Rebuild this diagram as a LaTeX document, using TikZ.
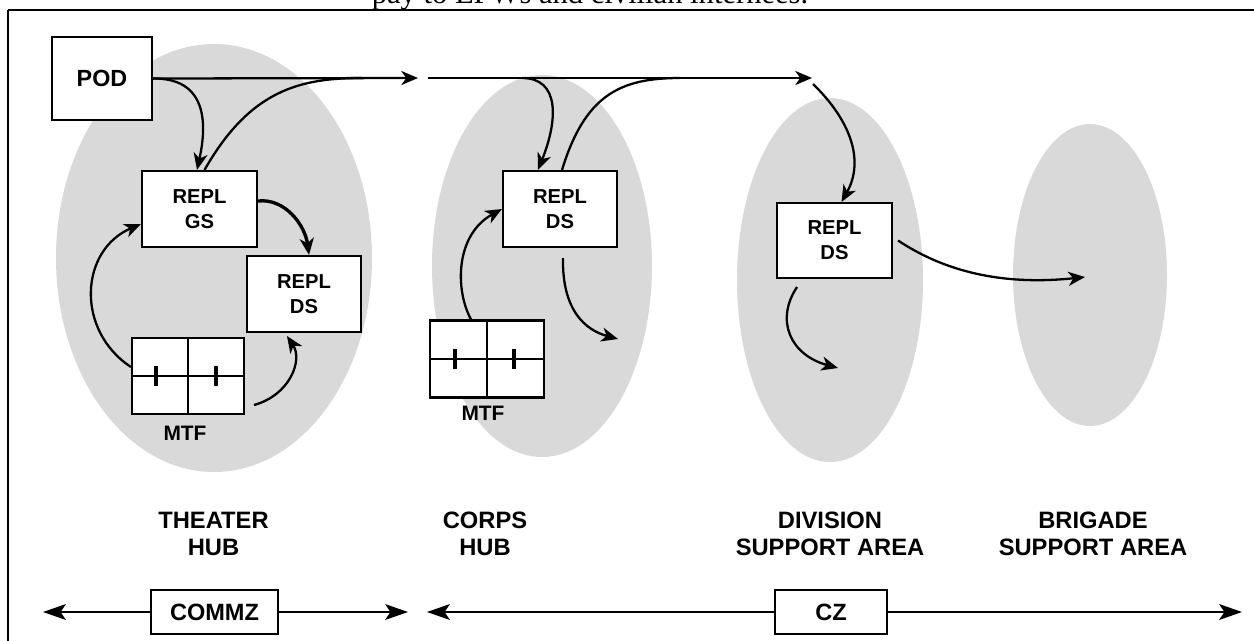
\documentclass[tikz,border=0pt]{standalone}
\usepackage{fontspec}
\setmainfont{Liberation Sans}
\newfontfamily\captionserif{Liberation Serif}
\usetikzlibrary{arrows.meta}
\definecolor{zonegray}{RGB}{217,217,217}
\begin{document}
\begin{tikzpicture}[x=0.02cm,y=-0.02cm,
  areafill/.style={fill=zonegray,draw=none},
  unitbox/.style={draw,line width=1.2pt,fill=white,align=center,inner sep=0pt,
    font=\bfseries\fontsize{11.5}{14.2}\selectfont},
  flow/.style={line width=1.3pt,-{Stealth[length=9.5pt,width=8pt,inset=2.8pt]}},
  joinline/.style={line width=1.3pt},
  mtftick/.style={line width=1.9pt},
  arealabel/.style={align=center,font=\bfseries\fontsize{13.5}{15.3}\selectfont},
  mtflabel/.style={font=\bfseries\fontsize{11.9}{14}\selectfont},
  zonebox/.style={draw,line width=0.8pt,fill=white,inner sep=0pt,
    font=\bfseries\fontsize{13.4}{15}\selectfont},
  rangearrow/.style={line width=0.8pt,-{Stealth[length=13pt,width=9pt,inset=3pt]}}
]
\useasboundingbox (0,0) rectangle (1254,640);
\clip (0,0) rectangle (1254,640);

% shaded areas
\fill[areafill] (214,258) ellipse [x radius=158, y radius=214];
\fill[areafill] (542,266) ellipse [x radius=110, y radius=191];
\fill[areafill] (830,280) ellipse [x radius=93, y radius=182];
\fill[areafill] (1090,275) ellipse [x radius=77, y radius=151];

% frame and caption line above it
\node[anchor=base,font=\captionserif\fontsize{17.4}{20}\selectfont] (caption) at (590,3)
  {pay to EPWs and civilian internees.};
\draw[line width=1.5pt] (1300,10) -- (8,10);
\draw[line width=1pt] (8,10) -- (8,700);

% boxes
\node[unitbox,minimum width=2.0cm,minimum height=1.66cm,font=\bfseries\fontsize{13.3}{15}\selectfont] (pod) at (102,78.5) {POD};
\node[unitbox,minimum width=2.3cm,minimum height=1.52cm] (gs) at (199.5,209) {REPL\\GS};
\node[unitbox,minimum width=2.28cm,minimum height=1.52cm] (dsT) at (304,294) {REPL\\DS};
\node[unitbox,minimum width=2.28cm,minimum height=1.52cm] (dsC) at (560,209) {REPL\\DS};
\node[unitbox,minimum width=2.3cm,minimum height=1.5cm] (dsD) at (834.5,240.5) {REPL\\DS};

% medical treatment facilities
\node[unitbox,minimum width=2.24cm,minimum height=1.52cm] (mtfT) at (188,376) {};
\draw[joinline] (mtfT.north) -- (mtfT.south) (mtfT.west) -- (mtfT.east);
\draw[mtftick] ([xshift=-0.64cm,yshift=0.2cm]mtfT.center) -- ([xshift=-0.64cm,yshift=-0.2cm]mtfT.center);
\draw[mtftick] ([xshift=0.56cm,yshift=0.2cm]mtfT.center) -- ([xshift=0.56cm,yshift=-0.2cm]mtfT.center);
\node[mtflabel] (mtfTl) at (185,433) {MTF};

\node[unitbox,minimum width=2.28cm,minimum height=1.54cm] (mtfC) at (487,359) {};
\draw[joinline] (mtfC.north) -- (mtfC.south) (mtfC.west) -- (mtfC.east);
\draw[mtftick] ([xshift=-0.64cm,yshift=0.2cm]mtfC.center) -- ([xshift=-0.64cm,yshift=-0.2cm]mtfC.center);
\draw[mtftick] ([xshift=0.54cm,yshift=0.2cm]mtfC.center) -- ([xshift=0.54cm,yshift=-0.2cm]mtfC.center);
\node[mtflabel] (mtfCl) at (483,413) {MTF};

% theater hub flows
\coordinate (tipT) at (418,78);
\coordinate (mergeT) at (362,78);
\draw[flow] (pod.east) -- (tipT);
\draw[flow] (pod.east) .. controls (205,78) and (208,120) .. ([xshift=-0.05cm]gs.north);
\draw[joinline] ([xshift=0.1cm]gs.north) .. controls (250,90) and (300,78) .. (mergeT);
\draw[flow,line width=1.9pt] ([yshift=0.16cm]gs.east) .. controls (285,198) and (305,225) .. ([xshift=0.1cm]dsT.north);
\draw[flow] ([yshift=0.18cm]mtfT.west) .. controls (75,330) and (80,250) .. ([yshift=-0.3cm]gs.west);
\draw[flow] ([xshift=0.18cm,yshift=-0.58cm]mtfT.east) .. controls (290,395) and (303,360) .. ([xshift=-0.34cm,yshift=-0.06cm]dsT.south);

% corps hub flows
\coordinate (startC) at (428,78);
\coordinate (tipC) at (812,78);
\coordinate (branchC) at (522,78);
\coordinate (mergeC) at (680,78);
\coordinate (outC) at (618,339);
\draw[flow] (startC) -- (tipC);
\draw[flow] (branchC) .. controls (560,78) and (558,120) .. ([xshift=-0.44cm]dsC.north);
\draw[joinline] ([xshift=0.04cm]dsC.north) .. controls (585,95) and (620,78) .. (mergeC);
\draw[flow] ([xshift=0.06cm,yshift=-0.2cm]dsC.south) .. controls (562,310) and (585,330) .. (outC);
\draw[flow] ([xshift=-0.32cm]mtfC.north) .. controls (455,290) and (455,235) .. (dsC.west);

% division and brigade flows
\coordinate (branchD) at (813,84);
\coordinate (outD) at (838,368);
\coordinate (tipB) at (1085,277);
\draw[flow] (branchD) .. controls (850,120) and (865,160) .. ([xshift=0.14cm]dsD.north);
\draw[flow] ([xshift=0.1cm]dsD.east) .. controls (950,275) and (1010,285) .. (tipB);
\draw[flow] ([xshift=-0.75cm,yshift=-0.16cm]dsD.south) .. controls (775,320) and (790,355) .. (outD);

% area names
\node[arealabel] (theater) at (213.5,534) {THEATER\\HUB};
\node[arealabel] (corps) at (485,534) {CORPS\\HUB};
\node[arealabel] (division) at (830,534) {DIVISION\\SUPPORT AREA};
\node[arealabel] (brigade) at (1093,534) {BRIGADE\\SUPPORT AREA};

% zones along the bottom
\node[zonebox,minimum width=2.54cm,minimum height=0.88cm] (commz) at (214.5,612) {COMMZ};
\node[zonebox,minimum width=2.24cm,minimum height=0.88cm] (cz) at (831,612) {CZ};
\coordinate (commzL) at (43,612);
\coordinate (commzR) at (408,612);
\coordinate (czL) at (427,612);
\coordinate (czR) at (1242,612);
\draw[rangearrow] (commz.west) -- (commzL);
\draw[rangearrow] (commz.east) -- (commzR);
\draw[rangearrow] (cz.west) -- (czL);
\draw[rangearrow] (cz.east) -- (czR);
\end{tikzpicture}
\end{document}
